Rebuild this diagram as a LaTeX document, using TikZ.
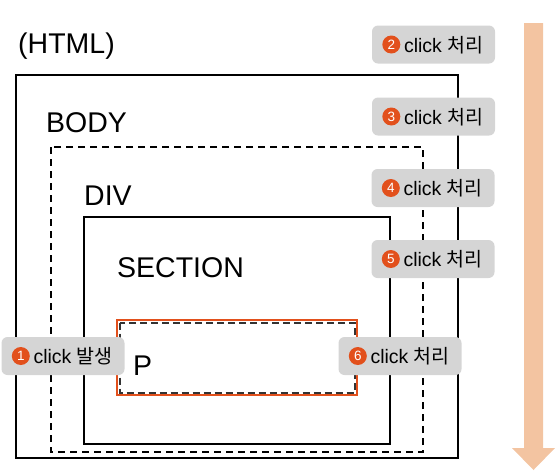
\documentclass[tikz,border=0pt]{standalone}
\usepackage{fontspec}
\setmainfont{Liberation Sans}
\newfontfamily\kr{Noto Sans CJK KR}
\definecolor{evorange}{HTML}{E2501C}
\definecolor{lblgray}{HTML}{D5D5D5}
\definecolor{peach}{HTML}{F3C4A1}
\tikzset{
  solidbox/.style={draw=black, line width=2pt},
  dashbox/.style={draw=black, line width=2pt, dash pattern=on 7pt off 5pt},
  pdash/.style={draw=black!80, line width=2pt, dash pattern=on 7pt off 4pt},
  porange/.style={draw=evorange, line width=2.5pt},
  big/.style={font=\fontsize{28.5}{30}\selectfont, anchor=base west, inner sep=0pt},
  lbl/.style={fill=lblgray, rounded corners=6pt, minimum width=123pt, minimum height=38pt, inner sep=0pt},
  num/.style={circle, fill=evorange, text=white, minimum size=18pt, inner sep=0pt, font=\fontsize{13.5}{14}\selectfont},
  lbltxt/.style={anchor=west, inner sep=0pt, font=\fontsize{19.5}{20}\selectfont},
}
\newcommand{\clabel}[4]{%
  \node[lbl] (#1) at (#2) {};
  \node[num] (#1n) at ([xshift=19.5pt]#1.west) {#3};
  \node[lbltxt] (#1t) at ([xshift=32pt,yshift=-0.5pt]#1.west) {click {\kr #4}};
}
\begin{document}
\begin{tikzpicture}[x=1pt,y=-1pt]
\useasboundingbox (0,0) rectangle (559,475);
% flow arrow
\fill[peach] (524,23) -- (543,23) -- (543,448) -- (555,448) -- (533.5,470) -- (512,448) -- (524,448) -- cycle;
% boxes
\draw[solidbox] (16,75) rectangle (458,457.5);
\draw[dashbox] (51,147) rectangle (423,452);
\draw[solidbox] (84,217) rectangle (390,444);
\draw[porange] (117,320) rectangle (357,395);
\draw[pdash] (119.5,322.5) rectangle (354.5,392.5);
% titles
\node[big] (thtml) at (18,53) {(HTML)};
\node[big] (tbody) at (46,132) {BODY};
\node[big] (tdiv) at (84,205) {DIV};
\node[big] (tsec) at (117,277) {SECTION};
\node[big] (tp) at (133,375) {P};
% labels
\clabel{l2}{433.5,44.5}{2}{처리}
\clabel{l3}{433.5,116.5}{3}{처리}
\clabel{l4}{433,188}{4}{처리}
\clabel{l5}{433,259}{5}{처리}
\clabel{l1}{63,356}{1}{발생}
\clabel{l6}{400,356}{6}{처리}
\end{tikzpicture}
\end{document}
